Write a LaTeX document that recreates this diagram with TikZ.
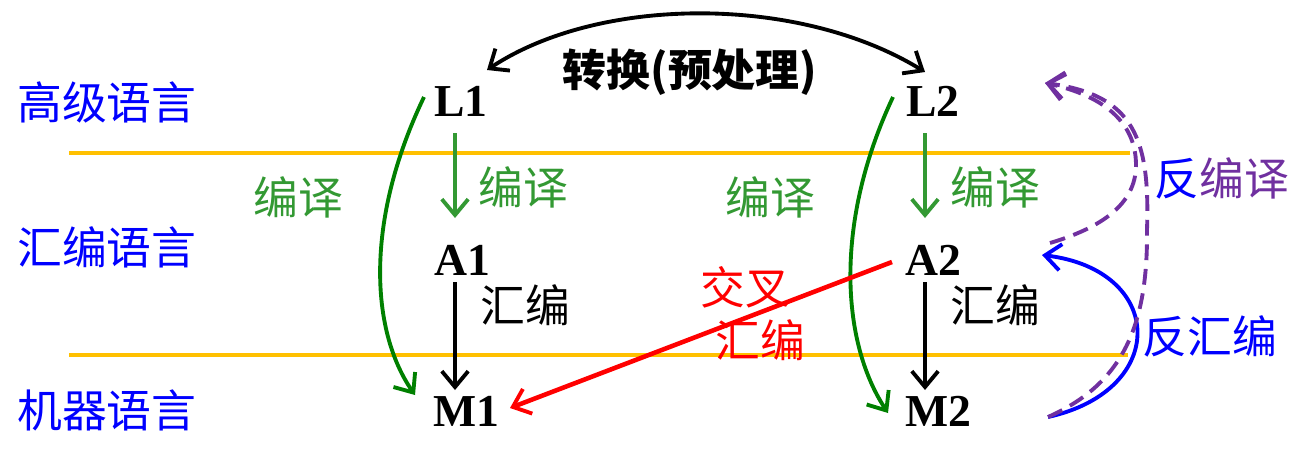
\documentclass[tikz,border=0pt]{standalone}
\usepackage{fontspec}
\setmainfont{Liberation Serif}
\newfontfamily\cjk{Noto Sans CJK SC}
\usetikzlibrary{arrows.meta}
\definecolor{lblue}{HTML}{0000FF}
\definecolor{lgreen}{HTML}{339933}
\definecolor{dgreen}{HTML}{008000}
\definecolor{lpurple}{HTML}{7030A0}
\definecolor{lred}{HTML}{FF0000}
\definecolor{lyellow}{HTML}{FFC000}
\tikzset{
  cjktext/.style={inner sep=0pt, font=\cjk\fontsize{25.5}{29}\selectfont},
  level/.style={cjktext, text=lblue},
  code/.style={inner sep=0pt, font=\bfseries\fontsize{26}{30}\selectfont},
  barb/.tip={Straight Barb[length=9pt,width=15pt,line width=2.2pt]},
  tip/.style={-barb},
  garrow/.style={tip, draw=lgreen, line width=2.2pt},
  karrow/.style={tip, draw=black, line width=2.2pt},
  carrow/.style={tip, draw=dgreen, line width=2.2pt},
  rarrow/.style={tip, draw=lred, line width=2.6pt},
  barrow/.style={tip, draw=lblue, line width=2.2pt},
  parrow/.style={tip, draw=lpurple, line width=2.2pt, dash pattern=on 9pt off 5pt},
  sep/.style={draw=lyellow, line width=2.6pt},
}
\begin{document}
\begin{tikzpicture}[x=0.02cm, y=-0.02cm]
\useasboundingbox[fill=white] (0,0) rectangle (1302,450);
% separator lines
\coordinate (s1a) at (69,153); \coordinate (s1b) at (1130,153);
\coordinate (s2a) at (69,355); \coordinate (s2b) at (1128,355);
\draw[sep] (s1a) -- (s1b);
\draw[sep] (s2a) -- (s2b);
% level labels
\node[level] (hl) at (107,102) {高级语言};
\node[level] (al) at (107,247) {汇编语言};
\node[level] (ml) at (107,410) {机器语言};
% code nodes
\node[code] (L1) at (461,101) {L1};
\node[code] (A1) at (462,260) {A1};
\node[code] (M1) at (466,411) {M1};
\node[code] (L2) at (933,101) {L2};
\node[code] (A2) at (933,260) {A2};
\node[code] (M2) at (938,411) {M2};
% title
\node[inner sep=0pt, font=\cjk\bfseries\fontsize{25}{29}\selectfont] (tt) at (690,72) {转换(预处理)};
% labels
\node[cjktext, text=lgreen] (c1) at (523,187) {编译};
\node[cjktext, text=lgreen] (c2) at (995,187) {编译};
\node[cjktext, text=lgreen] (c3) at (298,197) {编译};
\node[cjktext, text=lgreen] (c4) at (770,197) {编译};
\node[cjktext] (h1) at (525,305) {汇编};
\node[cjktext] (h2) at (995,305) {汇编};
\node[cjktext, text=lred] (x1) at (745,287) {交叉};
\node[cjktext, text=lred] (x2) at (760,340) {汇编};
\node[cjktext] (fb) at (1222,178) {\textcolor{lblue}{反}\textcolor{lpurple}{编译}};
\node[cjktext, text=lblue] (fh) at (1210,336) {反汇编};
% top conversion arc
\draw[karrow, barb-barb]
  ([shift={(26,-31)}]L1.center) .. controls (600,-5) and (800,-5) .. ([shift={(-8,-29)}]L2.center);
% straight arrows
\draw[garrow] ([shift={(-6,32)}]L1.center) -- ([shift={(-7,-42)}]A1.center);
\draw[karrow] ([shift={(-7,22)}]A1.center) -- ([shift={(-11,-21)}]M1.center);
\draw[garrow] ([shift={(-8,32)}]L2.center) -- ([shift={(-8,-42)}]A2.center);
\draw[karrow] ([shift={(-8,22)}]A2.center) -- ([shift={(-13,-21)}]M2.center);
% curved compile arrows
\draw[carrow] ([shift={(-37,-4)}]L1.center) .. controls (365,220) and (370,330) .. ([shift={(-51,-16)}]M1.center);
\draw[carrow] ([shift={(-40,-4)}]L2.center) .. controls (835,220) and (840,340) .. ([shift={(-50,2)}]M2.center);
% cross assembly
\draw[rarrow] ([shift={(-41,2)}]A2.center) -- ([shift={(44,-3)}]M1.center);
% disassembly
\coordinate (m2r) at (1048,417);
\coordinate (a2r) at (1042,255);
\coordinate (a2d) at (1050,243);
\coordinate (l2r) at (1045,83);
\draw[barrow] (m2r) .. controls (1170,390) and (1165,270) .. (a2r);
\draw[parrow] (m2r) .. controls (1120,385) and (1148,330) .. (1147,230) .. controls (1150,140) and (1135,95) .. (l2r);
\draw[parrow] (a2d) .. controls (1100,228) and (1136,205) .. (1136,165) .. controls (1136,120) and (1100,95) .. (l2r);
\end{tikzpicture}
\end{document}
